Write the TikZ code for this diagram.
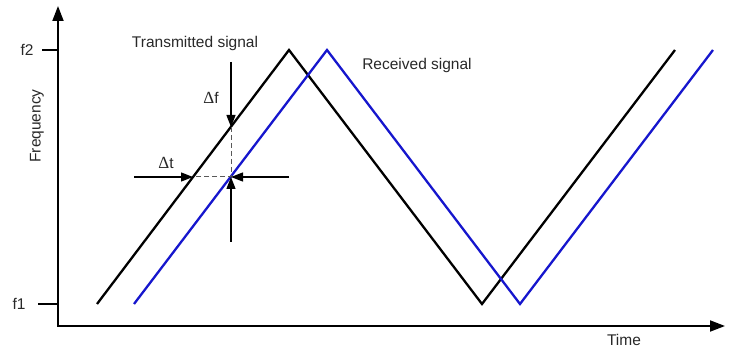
\documentclass[tikz,border=0pt]{standalone}
\usepackage{fontspec}
\setmainfont{Liberation Sans}
\newfontfamily\deltafont{Liberation Serif}
\usetikzlibrary{arrows.meta}
\definecolor{rxblue}{RGB}{22,22,205}
\definecolor{txtgray}{RGB}{40,40,40}
\newcommand{\Dl}{{\deltafont\fontsize{17}{18}\selectfont\symbol{"0394}}}
\tikzset{>={Triangle[length=12pt,width=9pt]},every node/.style={font=\fontsize{15.5}{17}\selectfont,text=txtgray,inner sep=1pt},
axis/.style={line width=1.9pt,<->,>={Triangle[length=15pt,width=11pt]}},
tickline/.style={line width=1.4pt},sig/.style={line width=2.3pt,line join=miter},
dimarrow/.style={line width=1.3pt,->},guide/.style={line width=1pt,gray!70!black,dash pattern=on 5pt off 3pt}}

\begin{document}
\begin{tikzpicture}[x=1pt,y=-1pt]
\useasboundingbox (0,0) rectangle (732,350);
% axes
\coordinate (O) at (58,326);\coordinate (ytop) at (58,6);\coordinate (xend) at (725,326);
\draw[axis] (ytop)--(O)--(xend);
\node[rotate=90] (freq) at (37,126){Frequency};
\node[anchor=base] (time) at (624,345){Time};
\node (f2) at (27,50){f2};\coordinate (f2t) at (58,50);\draw[tickline] (42,50)--(f2t);
\node (f1) at (19,304){f1};\coordinate (f1t) at (58,304);\draw[tickline] (38,304)--(f1t);
% transmitted and received signals
\coordinate (t0) at (97,304);\coordinate (t1) at (289,50);\coordinate (t2) at (482,304);\coordinate (t3) at (675,50);
\coordinate (r0) at (134,304);\coordinate (r1) at (327,50);\coordinate (r2) at (520,304);\coordinate (r3) at (713,50);
\draw[sig] (t0)--(t1)--(t2)--(t3);
\draw[sig,rxblue] (r0)--(r1)--(r2)--(r3);
\node[anchor=base] (txlab) at (195,48){Transmitted signal};
\node[anchor=base] (rxlab) at (417,70){Received signal};
% delays
\coordinate (pt) at (231,127);\coordinate (pr) at (231,177);\coordinate (ph) at (193,177);
\draw[guide] (pt)--(pr)--(ph);
\coordinate (aup) at (231,62);\coordinate (adn) at (231,242);\coordinate (alt) at (134,177);\coordinate (art) at (289,177);
\draw[dimarrow] (aup)--(pt);\draw[dimarrow] (adn)--(pr);
\draw[dimarrow] (alt)--(ph);\draw[dimarrow] (art)--(pr);
\node (df) at (211,98){\Dl f};\node (dt) at (166,163){\Dl t};
\end{tikzpicture}
\end{document}
